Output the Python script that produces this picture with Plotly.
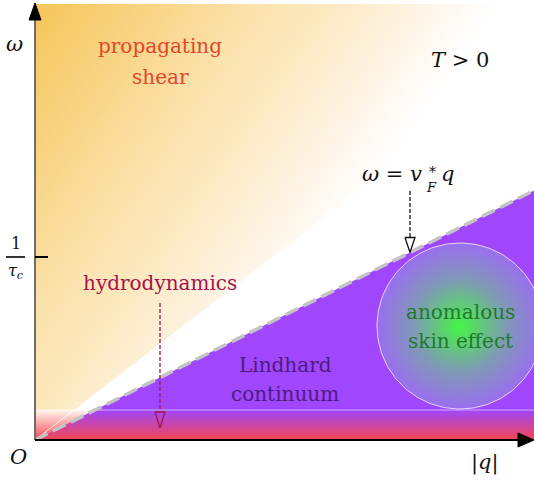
import numpy as np
import plotly.graph_objects as go

# ---------------- schematic data (arbitrary units of q and omega) ----------------
Q_MAX = 4.99            # right end of the |q| axis
OMEGA_MAX = 4.36        # top of the omega axis
Q_VIEW = [-0.35, 4.99]
OMEGA_VIEW = [-0.40, 4.40]

FERMI_VELOCITY = 0.50   # slope of omega = v_F* q
SHEAR_SLOPE = 0.77      # lower edge of the propagating-shear region
INV_TAU_C = 1.83        # position of the 1/tau_c tick
HYDRO_TOP = 0.30        # top of the hydrodynamic band
SKIN_CENTER = [4.25, 1.14]
SKIN_RADIUS = 0.83

region_labels = ["propagating", "shear", "hydrodynamics", "Lindhard", "continuum",
                 "anomalous", "skin effect"]
region_q = [1.25, 1.25, 1.25, 2.50, 2.50, 4.25, 4.25]
region_omega = [3.94, 3.63, 1.57, 0.75, 0.46, 1.28, 0.99]

math_labels = ["<i>ω</i>", "<i>T</i> &gt; 0", "<i>O</i>", "|<i>q</i>|", "1", "<i>τ</i><sub><i>c</i></sub>"]
math_q = [-0.21, 4.25, -0.17, 4.50, -0.19, -0.19]
math_omega = [3.96, 3.80, -0.17, -0.22, 1.97, 1.69]

# omega = v_F* q label pieces
vf_pieces = ["<i>ω</i> = <i>v</i>", "*", "<i>F</i>", "<i>q</i>"]
vf_q = [3.89, 3.97, 3.965, 4.04]
vf_omega = [2.66, 2.68, 2.53, 2.66]

# arrows: (q position, start omega) ; tips derived from the geometry
vf_arrow_q, vf_arrow_start = 3.75, 2.49
hydro_arrow_q, hydro_arrow_start, hydro_arrow_tip = 1.25, 1.37, 0.12

# ---------------- styles ----------------
FONT = "DejaVu Serif"
ORANGE_SCALE = [[0, "#f5c558"], [0.35, "#f9da96"], [0.5, "#fbe4af"], [0.62, "#fce8be"],
                [0.85, "#fef5e8"], [1, "#ffffff"]]
PURPLE = "#a046fc"
RED = "#f4474f"
region_colors = ["#e5462a", "#e5462a", "#a3134f", "#4c1c7e", "#4c1c7e", "#1f7a2c", "#1f7a2c"]

fig = go.Figure()

# orange gradient background (propagating shear)
nx, ny = 120, 120
dx, dy = Q_MAX / nx, OMEGA_MAX / ny
xc = dx / 2 + dx * np.arange(nx)
yc = dy / 2 + dy * np.arange(ny)
X, Y = np.meshgrid(xc, yc)
Z = np.clip(X / 4.64 + (OMEGA_MAX - Y) / 6.74, 0, 1)
fig.add_trace(go.Heatmap(x=xc, y=yc, z=Z, colorscale=ORANGE_SCALE, zmin=0, zmax=1,
                         zsmooth="best", showscale=False, hoverinfo="skip"))

# white region below the shear edge
fig.add_trace(go.Scatter(x=[0, Q_MAX, Q_MAX, 0], y=[0, SHEAR_SLOPE * Q_MAX, 0, 0],
                         fill="toself", fillcolor="white", mode="none", hoverinfo="skip"))

# Lindhard continuum wedge
fig.add_trace(go.Scatter(x=[0, Q_MAX, Q_MAX, 0], y=[0, FERMI_VELOCITY * Q_MAX, 0, 0],
                         fill="toself", fillcolor=PURPLE, mode="none", hoverinfo="skip"))

# hydrodynamic band: white part and purple part
q_edge = HYDRO_TOP / FERMI_VELOCITY
fig.add_trace(go.Scatter(x=[0, 0, q_edge, 0], y=[0, HYDRO_TOP, HYDRO_TOP, 0],
                         fill="toself", mode="none", hoverinfo="skip",
                         fillgradient=dict(type="vertical",
                                           colorscale=[[0, RED], [1, "rgba(255,246,238,1)"]])))
fig.add_trace(go.Scatter(x=[0, q_edge, Q_MAX, Q_MAX, 0], y=[0, HYDRO_TOP, HYDRO_TOP, 0, 0],
                         fill="toself", mode="none", hoverinfo="skip",
                         fillgradient=dict(type="vertical",
                                           colorscale=[[0, RED], [1, PURPLE]])))
fig.add_trace(go.Scatter(x=[0, Q_MAX], y=[HYDRO_TOP, HYDRO_TOP], mode="lines",
                         line=dict(color="rgba(255,255,255,0.55)", width=1), hoverinfo="skip"))
fig.add_trace(go.Scatter(x=[0, HYDRO_TOP / SHEAR_SLOPE], y=[0, HYDRO_TOP], mode="lines",
                         line=dict(color="rgba(255,255,255,0.8)", width=1), hoverinfo="skip"))

# anomalous skin effect disc
th = np.linspace(0, 2 * np.pi, 181)
fig.add_trace(go.Scatter(x=SKIN_CENTER[0] + SKIN_RADIUS * np.cos(th),
                         y=SKIN_CENTER[1] + SKIN_RADIUS * np.sin(th),
                         fill="toself", mode="lines", hoverinfo="skip",
                         line=dict(color="rgba(255,255,255,0.75)", width=1),
                         fillgradient=dict(type="radial",
                                           colorscale=[[0, "#45f545"], [0.55, "#7f9ab4"], [1, "#9a6ef0"]])))

# omega = v_F q dashed boundary
fig.add_trace(go.Scatter(x=[0, Q_MAX], y=[0, FERMI_VELOCITY * Q_MAX], mode="lines",
                         line=dict(color="#c4c4c4", width=3.5, dash="14px,6px"), hoverinfo="skip"))


def open_arrow(q, start, tip, color, head_len=0.15, head_w=0.10):
    fig.add_trace(go.Scatter(x=[q, q], y=[start, tip + head_len], mode="lines", hoverinfo="skip",
                             line=dict(color=color, width=1.3, dash="4px,2px")))
    fig.add_trace(go.Scatter(x=[q - head_w / 2, q + head_w / 2, q, q - head_w / 2],
                             y=[tip + head_len, tip + head_len, tip, tip + head_len],
                             mode="lines", hoverinfo="skip", line=dict(color=color, width=1.3)))


open_arrow(vf_arrow_q, vf_arrow_start, FERMI_VELOCITY * vf_arrow_q, "#111111")
open_arrow(hydro_arrow_q, hydro_arrow_start, hydro_arrow_tip, "#a3134f", head_len=0.16)

# axes
fig.add_trace(go.Scatter(x=[0, 0], y=[0, 4.22], mode="lines", hoverinfo="skip",
                         line=dict(color="#6e6e6e", width=2), cliponaxis=False))
fig.add_trace(go.Scatter(x=[-0.06, 0.06, 0, -0.06], y=[4.20, 4.20, OMEGA_MAX + 0.01, 4.20],
                         fill="toself", fillcolor="black", mode="lines", hoverinfo="skip",
                         line=dict(color="black", width=1), cliponaxis=False))
fig.add_trace(go.Scatter(x=[0, 4.86], y=[0, 0], mode="lines", hoverinfo="skip",
                         line=dict(color="black", width=2), cliponaxis=False))
fig.add_trace(go.Scatter(x=[4.83, 4.83, Q_MAX, 4.83], y=[-0.07, 0.07, 0, -0.07],
                         fill="toself", fillcolor="black", mode="lines", hoverinfo="skip",
                         line=dict(color="black", width=1), cliponaxis=False))
# 1/tau_c tick and fraction bar
fig.add_trace(go.Scatter(x=[0, 0.13], y=[INV_TAU_C, INV_TAU_C], mode="lines", hoverinfo="skip",
                         line=dict(color="black", width=2)))
fig.add_trace(go.Scatter(x=[-0.29, -0.10], y=[INV_TAU_C, INV_TAU_C], mode="lines", hoverinfo="skip",
                         line=dict(color="black", width=1.6)))

# labels
for txt, q, w, c in zip(region_labels, region_q, region_omega, region_colors):
    fig.add_annotation(x=q, y=w, text=txt, showarrow=False, xanchor="center", yanchor="middle",
                       font=dict(family=FONT, size=20, color=c))
math_sizes = [21, 21, 21, 21, 16, 16]
for txt, q, w, s in zip(math_labels, math_q, math_omega, math_sizes):
    fig.add_annotation(x=q, y=w, text=txt, showarrow=False, xanchor="center", yanchor="middle",
                       font=dict(family=FONT, size=s, color="#111111"))
vf_sizes = [21, 14, 13, 21]
vf_anchor = ["right", "center", "center", "left"]
for txt, q, w, s, a in zip(vf_pieces, vf_q, vf_omega, vf_sizes, vf_anchor):
    fig.add_annotation(x=q, y=w, text=txt, showarrow=False, xanchor=a, yanchor="middle",
                       font=dict(family=FONT, size=s, color="#111111"))

fig.update_layout(width=534, height=480, margin=dict(l=0, r=0, t=0, b=0),
                  paper_bgcolor="white", plot_bgcolor="white", showlegend=False,
                  xaxis=dict(range=Q_VIEW, visible=False, fixedrange=True),
                  yaxis=dict(range=OMEGA_VIEW, visible=False, fixedrange=True))
fig.write_html("out.html", config={"displayModeBar": False},
               post_script="document.body.style.margin='0';document.body.style.overflow='hidden';")
